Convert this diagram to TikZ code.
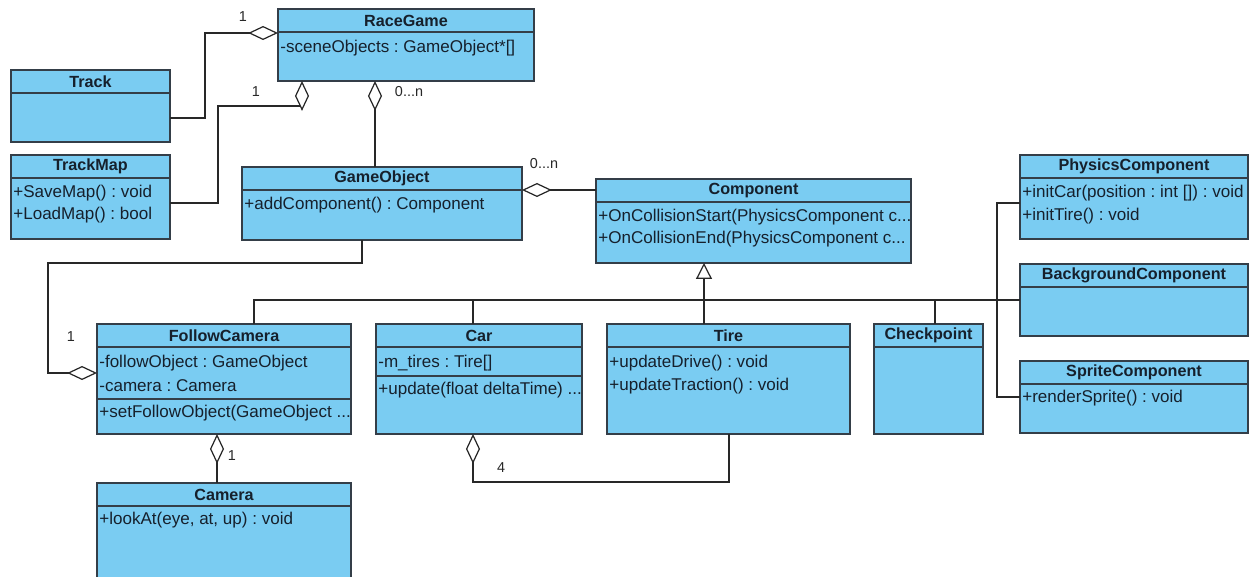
\documentclass[tikz,border=0pt]{standalone}
\usepackage{fontspec}
\setmainfont{Liberation Sans}
\frenchspacing
\usetikzlibrary{calc}
\usetikzlibrary{arrows.meta}
\definecolor{classfill}{RGB}{122,204,242}
\definecolor{classedge}{RGB}{52,62,72}
\definecolor{classtext}{RGB}{22,32,44}
\definecolor{linkcol}{RGB}{40,40,40}
\tikzset{
  classbox/.style={draw=classedge, fill=classfill, line width=0.8pt, anchor=north west, inner sep=0pt, outer sep=0pt},
  classline/.style={draw=classedge, line width=0.8pt},
  classtitle/.style={font=\fontsize{9.2}{11}\selectfont\bfseries, text=classtext, inner sep=0pt},
  member/.style={font=\fontsize{9.7}{11}\selectfont, text=classtext, anchor=west, inner sep=0pt},
  mult/.style={font=\fontsize{8.2}{10}\selectfont, text=linkcol, inner sep=0pt},
  link/.style={draw=linkcol, line width=0.7pt},
  agg/.style={link, arrows={{Diamond[length=17pt,width=8pt,fill=white]}-}},
  gen/.style={link, arrows={-{Triangle[length=9pt,width=9pt,fill=white]}}},
}
\newcommand{\umlclass}[6]{\node[classbox, minimum width=#4*0.02cm, minimum height=#5*0.02cm] (#1) at (#2,#3) {}; \draw[classline] (#1.north west) ++(0,23) -- ++(#4,0); \node[classtitle] (#1-title) at ($(#1.north)+(0,11.5)$) {#6};}
\newcommand{\umlmember}[4]{\node[member] (#1) at ($(#2.north west)+(2,#3)$) {#4};}
\newcommand{\umlsep}[3]{\draw[classline] (#1.north west) ++(0,#2) -- ++(#3,0);}

\begin{document}
\begin{tikzpicture}[x=0.02cm, y=-0.02cm]
        \useasboundingbox (0,0) rectangle (1250,577);
        \fill[white] (0,0) rectangle (1250,577);

        % top row
        \umlclass{RaceGame}{278}{9}{256}{72}{RaceGame}
        \umlmember{RaceGame-a1}{RaceGame}{39}{-sceneObjects : GameObject*[]}
        \umlclass{Track}{11}{70}{159}{72}{Track}
        \umlclass{TrackMap}{11}{155}{159}{84}{TrackMap}
        \umlmember{TrackMap-m1}{TrackMap}{38}{+SaveMap() : void}
        \umlmember{TrackMap-m2}{TrackMap}{60}{+LoadMap() : bool}

        % middle row
        \umlclass{GameObject}{242}{167}{280}{73}{GameObject}
        \umlmember{GameObject-m1}{GameObject}{38}{+addComponent() : Component}
        \umlclass{Component}{596}{179}{315}{84}{Component}
        \umlmember{Component-m1}{Component}{38}{+OnCollisionStart(PhysicsComponent c...}
        \umlmember{Component-m2}{Component}{60}{+OnCollisionEnd(PhysicsComponent c...}

        % right column
        \umlclass{PhysicsComponent}{1020}{155}{228}{84}{PhysicsComponent}
        \umlmember{PhysicsComponent-m1}{PhysicsComponent}{38}{+initCar(position : int []) : void}
        \umlmember{PhysicsComponent-m2}{PhysicsComponent}{61}{+initTire() : void}
        \umlclass{BackgroundComponent}{1020}{264}{228}{72}{BackgroundComponent}
        \umlclass{SpriteComponent}{1020}{361}{228}{72}{SpriteComponent}
        \umlmember{SpriteComponent-m1}{SpriteComponent}{37}{+renderSprite() : void}

        % bottom row
        \umlclass{FollowCamera}{97}{324}{254}{110}{FollowCamera}
        \umlmember{FollowCamera-a1}{FollowCamera}{39}{-followObject : GameObject}
        \umlmember{FollowCamera-a2}{FollowCamera}{62}{-camera : Camera}
        \umlsep{FollowCamera}{75}{254}
        \umlmember{FollowCamera-m1}{FollowCamera}{89}{+setFollowObject(GameObject ...}
        \umlclass{Car}{376}{324}{206}{110}{Car}
        \umlmember{Car-a1}{Car}{39}{-m\_tires : Tire[]}
        \umlsep{Car}{52}{206}
        \umlmember{Car-m1}{Car}{66}{+update(float deltaTime) ...}
        \umlclass{Tire}{607}{324}{243}{110}{Tire}
        \umlmember{Tire-m1}{Tire}{39}{+updateDrive() : void}
        \umlmember{Tire-m2}{Tire}{62}{+updateTraction() : void}
        \umlclass{Checkpoint}{874}{324}{109}{110}{Checkpoint}
        \umlclass{Camera}{97}{483}{254}{100}{Camera}
        \umlmember{Camera-m1}{Camera}{37}{+lookAt(eye, at, up) : void}

        % aggregations
        \draw[agg] ($(RaceGame.north west)+(0,24)$) -| ($(Track.north east)+(35,48)$) -- ($(Track.north east)+(0,48)$);
        \draw[agg] ($(RaceGame.south west)+(24,0)$) |- ($(TrackMap.north east)+(48,-49)$) |- ($(TrackMap.north east)+(0,48)$);
        \draw[agg] ($(RaceGame.south west)+(97,0)$) -- ($(GameObject.north west)+(133,0)$);
        \draw[agg] ($(GameObject.north east)+(0,23)$) -- ($(Component.north west)+(0,11)$);
        \draw[agg] ($(FollowCamera.north west)+(0,49)$) -- ++(-49,0) |- ($(GameObject.south west)+(120,23)$) -- ($(GameObject.south west)+(120,0)$);
        \draw[agg] ($(FollowCamera.south west)+(120,0)$) -- ($(Camera.north west)+(120,0)$);
        \draw[agg] ($(Car.south west)+(97,0)$) |- ($(Tire.south west)+(122,48)$) -- ($(Tire.south west)+(122,0)$);

        % generalization
        \draw[gen] ($(Tire.north west)+(97,0)$) -- ($(Component.south west)+(108,0)$);
        \draw[link] ($(FollowCamera.north west)+(157,0)$) |- (BackgroundComponent.west);
        \draw[link] ($(Car.north west)+(97,0)$) -- ++(0,-24);
        \draw[link] ($(Checkpoint.north west)+(61,0)$) -- ++(0,-24);
        \draw[link] ($(PhysicsComponent.north west)+(0,48)$) -| ($(SpriteComponent.north west)+(-23,36)$) -- ($(SpriteComponent.north west)+(0,36)$);

        % text
        \node[mult] (m-track) at (243,17) {1};
        \node[mult] (m-trackmap) at (256,92) {1};
        \node[mult] (m-objects) at (409,92) {0...n};
        \node[mult] (m-components) at (544,164) {0...n};
        \node[mult] (m-follow) at (71,337) {1};
        \node[mult] (m-camera) at (232,456) {1};
        \node[mult] (m-tires) at (501,468) {4};
\end{tikzpicture}
\end{document}
